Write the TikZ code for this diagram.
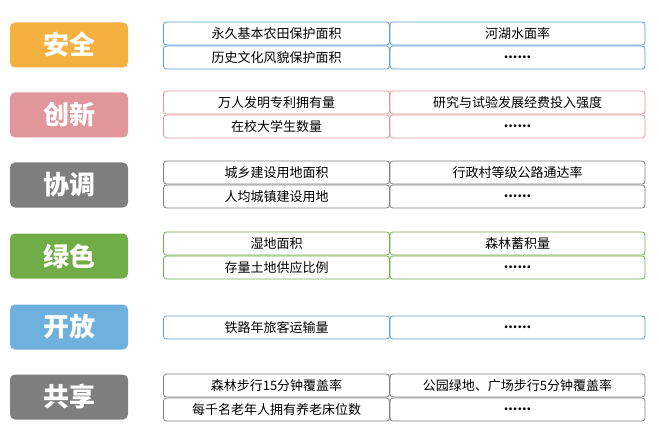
\documentclass[tikz,border=0pt]{standalone}
\usepackage{fontspec}
\setmainfont{Noto Sans CJK SC}
\definecolor{cA}{HTML}{F4B041}
\definecolor{cB}{HTML}{E0969A}
\definecolor{cC}{HTML}{7F7F7F}
\definecolor{cD}{HTML}{70AD47}
\definecolor{cE}{HTML}{6FB1DD}
\definecolor{bA}{HTML}{5B9BD5}
\begin{document}
\begin{tikzpicture}[x=1pt,y=-1pt,
  lab/.style={rounded corners=5pt,minimum width=118pt,minimum height=45pt,text=white,font=\bfseries\fontsize{26}{28}\selectfont,inner sep=0pt},
  cell/.style={draw=#1,rounded corners=3pt,line width=0.8pt,minimum height=23pt,inner sep=0pt,font=\fontsize{13}{14}\selectfont}]
\useasboundingbox (0,0) rectangle (659,441);
\def\cellpair#1#2#3#4#5{%
  \node[cell=#2,minimum width=226pt] (#5a) at (276.5,#1) {#3};
  \node[cell=#2,minimum width=255pt] (#5b) at (517.5,#1) {#4};}
\node[lab,fill=cA] (l1) at (69,45) {安全};
\cellpair{33.5}{bA}{永久基本农田保护面积}{河湖水面率}{r1}
\cellpair{57.5}{bA}{历史文化风貌保护面积}{\textbf{......}}{r2}
\node[lab,fill=cB] (l2) at (69,115) {创新};
\cellpair{102.5}{cB}{万人发明专利拥有量}{研究与试验发展经费投入强度}{r3}
\cellpair{126.5}{cB}{在校大学生数量}{\textbf{......}}{r4}
\node[lab,fill=cC] (l3) at (69,185) {协调};
\cellpair{172.5}{cC}{城乡建设用地面积}{行政村等级公路通达率}{r5}
\cellpair{196.5}{cC}{人均城镇建设用地}{\textbf{......}}{r6}
\node[lab,fill=cD] (l4) at (69,256) {绿色};
\cellpair{243.5}{cD}{湿地面积}{森林蓄积量}{r7}
\cellpair{267.5}{cD}{存量土地供应比例}{\textbf{......}}{r8}
\node[lab,fill=cE] (l5) at (69,327) {开放};
\cellpair{327.5}{bA}{铁路年旅客运输量}{\textbf{......}}{r9}
\node[lab,fill=cC] (l6) at (69,397) {共享};
\cellpair{385.5}{cC}{森林步行15分钟覆盖率}{公园绿地、广场步行5分钟覆盖率}{r10}
\cellpair{409.5}{cC}{每千名老年人拥有养老床位数}{\textbf{......}}{r11}
\end{tikzpicture}
\end{document}
